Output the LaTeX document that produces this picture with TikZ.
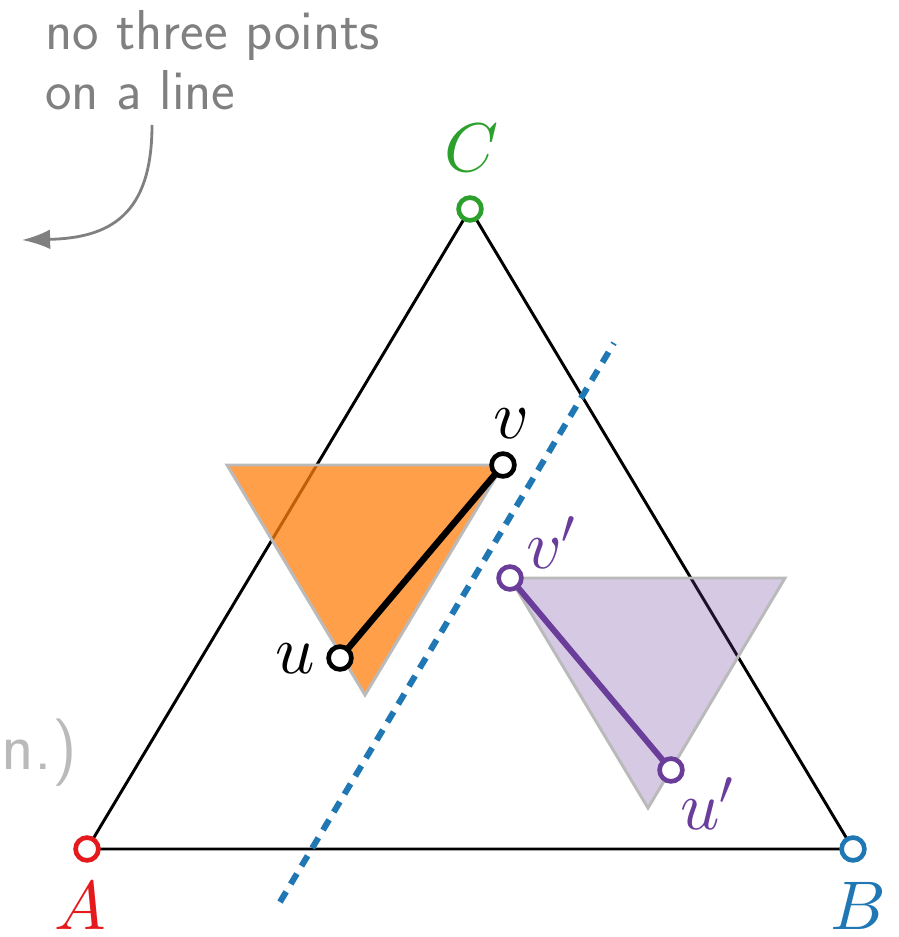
\documentclass[tikz,border=0pt]{standalone}
\usepackage{amsmath}
\usetikzlibrary{arrows.meta}

% scalable math fonts for the large labels
\DeclareFontShape{OML}{cmm}{m}{it}{<->cmmi10}{}
\DeclareFontShape{OMS}{cmsy}{m}{n}{<->cmsy10}{}

\definecolor{ptred}{HTML}{E41A1C}
\definecolor{ptgreen}{HTML}{2CA02C}
\definecolor{ptblue}{HTML}{1F77B4}
\definecolor{ptpurple}{HTML}{6A3D9A}
\definecolor{ptorange}{HTML}{FF7F0E}

\begin{document}
\begin{tikzpicture}[
        x=0.025cm,
        y=-0.025cm,
        pt/.style={
            circle,
            draw,
            fill=white,
            line width=3.3pt,
            minimum size=0.57cm,
            inner sep=0pt
        },
        edge/.style={
            line width=2.1pt
        },
        shade/.style={
            draw=black!27,
            line width=2.1pt
        },
        lbl/.style={
            font=\fontsize{49}{58}\selectfont,
            inner sep=0pt
        },
        note/.style={
            font=\sffamily\fontsize{40}{43}\selectfont,
            inner sep=0pt
        }
    ]

    \useasboundingbox (0,0) rectangle (898,937);
    \clip (0,0) rectangle (898,937);

    % Corners and points
    \coordinate (A) at (87,849);
    \coordinate (B) at (853,849);
    \coordinate (C) at (470,209);

    \coordinate (u) at (340,658);
    \coordinate (v) at (503,465);
    \coordinate (up) at (671,770);
    \coordinate (vp) at (510,578);

    % Outer triangle
    \draw[edge] (A) -- (B) -- (C) -- cycle;

    % Shaded triangles
    \path[shade, fill=ptorange, fill opacity=0.75] (227,465) -- (503,465) -- (365,695) -- cycle;
    \path[shade, fill=ptpurple, fill opacity=0.28] (510,578) -- (785,578) -- (648,808) -- cycle;

    % Separating line
    \coordinate (d1) at (280,902);
    \coordinate (d2) at (614,343);
    \draw[ptblue, line width=4.3pt, dash pattern=on 8.5pt off 6.4pt] (d1) -- (d2);

    % Segments
    \draw[line width=4.6pt] (u) -- (v);
    \draw[ptpurple, line width=4.2pt] (up) -- (vp);

    % Point markers
    \node[pt, draw=ptred] (Apt) at (A) {};
    \node[pt, draw=ptblue] (Bpt) at (B) {};
    \node[pt, draw=ptgreen] (Cpt) at (C) {};
    \node[pt] (upt) at (u) {};
    \node[pt] (vpt) at (v) {};
    \node[pt, draw=ptpurple] (uppt) at (up) {};
    \node[pt, draw=ptpurple] (vppt) at (vp) {};

    % Labels
    \node[lbl, text=ptred] (labA) at (80,906) {$A$};
    \node[lbl, text=ptblue] (labB) at (858,906) {$B$};
    \node[lbl, text=ptgreen] (labC) at (472,148) {$C$};
    \node[lbl] (labu) at (295,659) {$u$};
    \node[lbl] (labv) at (511,424) {$v$};
    \node[lbl, text=ptpurple] (labvp) at (551,543) {$v'$};
    \node[lbl, text=ptpurple] (labup) at (707,804) {$u'$};

    % Remark
    \node[note, text=black!50, align=left, anchor=north west] (note) at (45,10) {no three points\\on a line};
    \coordinate (notetip) at (152,125);
    \coordinate (noteend) at (22,240);
    \draw[black!50, line width=2pt, -{Latex[length=20pt,width=14pt]}] (notetip) .. controls (152,215) and (110,238) .. (noteend);

    \node[note, font=\sffamily\fontsize{48}{52}\selectfont, text=black!27, anchor=base east] (cut) at (77,769) {n.)};

    \end{tikzpicture}
\end{document}
